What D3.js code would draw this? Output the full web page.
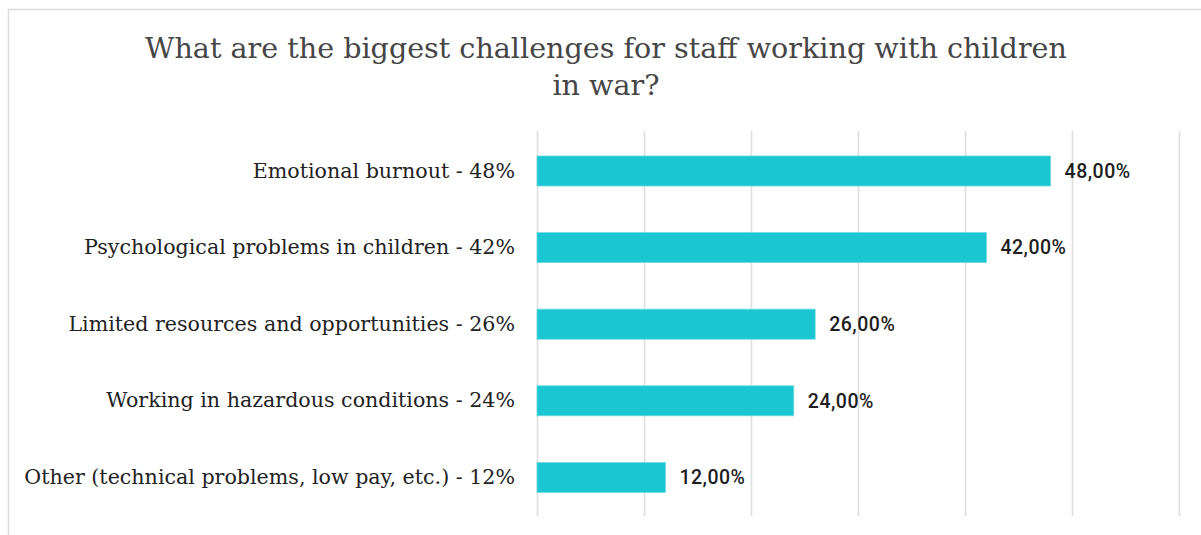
<!DOCTYPE html>
<html>
<head>
<meta charset="utf-8">
<script src="https://cdn.jsdelivr.net/npm/d3@7"></script>
<style>
  html, body { margin: 0; padding: 0; background: #fff; }
  svg { display: block; }
</style>
</head>
<body>
<svg id="chart" width="1201" height="535"></svg>
<script>
// Survey answers, in display order (top to bottom)
const categories = [
  "Emotional burnout - 48%",
  "Psychological problems in children - 42%",
  "Limited resources and opportunities - 26%",
  "Working in hazardous conditions - 24%",
  "Other (technical problems, low pay, etc.) - 12%"
];
const shares = [0.48, 0.42, 0.26, 0.24, 0.12];
const gridTicks = [0, 0.1, 0.2, 0.3, 0.4, 0.5, 0.6];
const titleLines = ["What are the biggest challenges for staff working with children", "in war?"];

const data = categories.map((c, i) => ({ category: c, value: shares[i] }));

const svg = d3.select("#chart");
const W = 1201, H = 535;
const plot = { left: 537, right: 1179, top: 131, bottom: 516 };

// Outer frame of the card
svg.append("rect")
  .attr("x", 8.5).attr("y", 9.5)
  .attr("width", W + 20).attr("height", H + 20)
  .attr("fill", "#fff")
  .attr("stroke", "#dcdcdc")
  .attr("stroke-width", 1.5);

// Title
const title = svg.append("text")
  .attr("text-anchor", "middle")
  .attr("font-family", "'DejaVu Serif', serif")
  .attr("font-size", 28.6)
  .attr("fill", "#464646");
title.selectAll("tspan")
  .data(titleLines)
  .join("tspan")
  .attr("x", 606)
  .attr("y", (d, i) => 58 + i * 37)
  .text(d => d);

const x = d3.scaleLinear().domain([0, 0.6]).range([plot.left, plot.right]);
const y = d3.scaleBand()
  .domain(categories)
  .range([plot.top + 1, plot.bottom + 0.4])
  .paddingInner(0.608)
  .paddingOuter(0.313);

// Vertical gridlines
const grid = svg.append("g")
  .attr("transform", `translate(0,${plot.bottom})`)
  .call(d3.axisBottom(x).tickValues(gridTicks).tickSize(plot.bottom - plot.top).tickFormat(""));
grid.select(".domain").remove();
grid.selectAll(".tick line")
  .attr("y2", -(plot.bottom - plot.top))
  .attr("stroke", "#dedede")
  .attr("stroke-width", 1.6);

// Bars
svg.append("g")
  .selectAll("rect")
  .data(data)
  .join("rect")
  .attr("x", x(0))
  .attr("y", d => y(d.category))
  .attr("width", d => x(d.value) - x(0))
  .attr("height", y.bandwidth())
  .attr("fill", "#19c6d1")
  .attr("stroke", "#6fdae2")
  .attr("stroke-width", 0.8);

// Category labels
const yAxis = svg.append("g")
  .attr("transform", `translate(${plot.left},0)`)
  .call(d3.axisLeft(y).tickSize(0).tickPadding(22));
yAxis.select(".domain").remove();
yAxis.selectAll(".tick text")
  .attr("font-family", "'DejaVu Serif', serif")
  .attr("font-size", 20.6)
  .attr("fill", "#222");

// Value labels
const fmt = v => (v * 100).toFixed(2).replace(".", ",") + "%";
svg.append("g")
  .selectAll("text")
  .data(data)
  .join("text")
  .attr("x", d => x(d.value) + 14)
  .attr("y", d => y(d.category) + y.bandwidth() / 2)
  .attr("dy", "0.35em")
  .attr("font-family", "Roboto, 'Liberation Sans', sans-serif")
  .attr("font-weight", 500)
  .attr("font-size", 19.5)
  .attr("letter-spacing", 0.5)
  .attr("fill", "#1e1e1e")
  .text(d => fmt(d.value));
</script>
</body>
</html>
